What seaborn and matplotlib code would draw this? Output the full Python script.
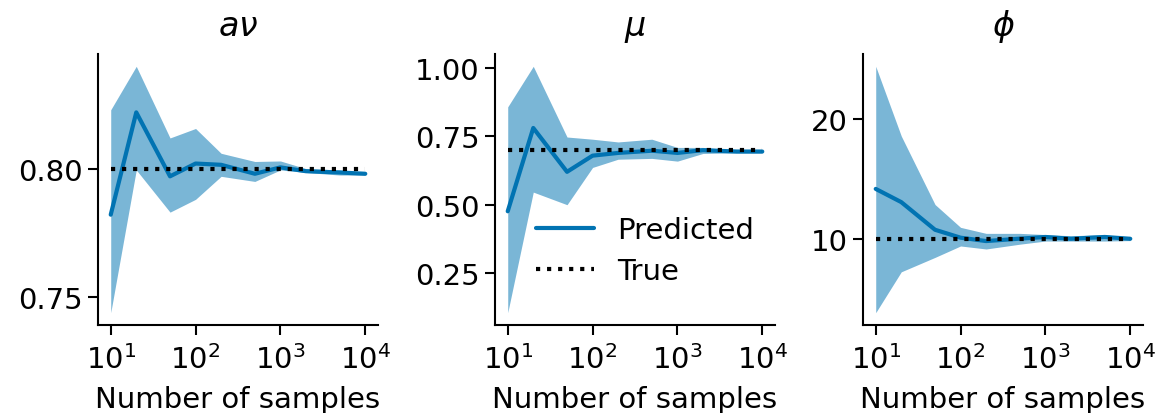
import numpy as np
import pandas as pd
import seaborn as sns
import matplotlib.pyplot as plt
from matplotlib.ticker import NullLocator

sns.set_theme(style="ticks", rc={'text.color': 'black', 'axes.labelcolor': 'black',
                                 'xtick.color': 'black', 'ytick.color': 'black',
                                 'axes.edgecolor': 'black'})
plt.rcParams['font.family'] = ['DejaVu Sans']
plt.rcParams['mathtext.fontset'] = 'dejavusans'

n_samples = [10, 20, 50, 100, 200, 500, 1000, 2000, 5000, 10000]

# a*nu
av_mean = [0.782, 0.822, 0.797, 0.802, 0.8015, 0.798, 0.8005, 0.799, 0.7985, 0.798]
av_upper = [0.823, 0.840, 0.812, 0.8157, 0.806, 0.8028, 0.803, 0.800, 0.7995, 0.7985]
av_lower = [0.7437, 0.7995, 0.783, 0.788, 0.797, 0.795, 0.7995, 0.7985, 0.7975, 0.7975]
av_true = 0.80

# mu
mu_mean = [0.477, 0.781, 0.621, 0.680, 0.690, 0.698, 0.690, 0.700, 0.695, 0.695]
mu_upper = [0.858, 1.006, 0.748, 0.740, 0.730, 0.740, 0.710, 0.710, 0.700, 0.700]
mu_lower = [0.107, 0.547, 0.501, 0.637, 0.667, 0.670, 0.660, 0.688, 0.690, 0.690]
mu_true = 0.70

# phi
phi_mean = [14.2, 13.1, 10.8, 10.14, 9.86, 10.06, 10.2, 10.05, 10.2, 10.05]
phi_upper = [24.4, 18.6, 12.9, 11.0, 10.5, 10.5, 10.4, 10.3, 10.4, 10.1]
phi_lower = [3.9, 7.3, 8.5, 9.45, 9.2, 9.6, 9.86, 9.86, 9.86, 9.9]
phi_true = 10.0

titles = [r'$a\nu$', r'$\mu$', r'$\phi$']
panels = [
    (av_mean, av_lower, av_upper, av_true, [0.75, 0.80], ['0.75', '0.80']),
    (mu_mean, mu_lower, mu_upper, mu_true, [0.25, 0.5, 0.75, 1.0], ['0.25', '0.50', '0.75', '1.00']),
    (phi_mean, phi_lower, phi_upper, phi_true, [10, 20], ['10', '20']),
]

blue = '#0173b2'
fs = 21

fig = plt.figure(figsize=(11.61, 4.14), dpi=100)
lefts = [98, 495, 863]
axes = [fig.add_axes([l / 1161, 1 - 326 / 414, 280 / 1161, (326 - 55) / 414]) for l in lefts]

for i, (ax, (mean, lo, hi, true, yt, ytl)) in enumerate(zip(axes, panels)):
    df = pd.DataFrame({'n': n_samples, 'mean': mean, 'lo': lo, 'hi': hi, 'true': true})
    ax.fill_between(df['n'], df['lo'], df['hi'], color=blue, alpha=0.52, linewidth=0)
    sns.lineplot(data=df, x='n', y='mean', ax=ax, color=blue, linewidth=3, label='Predicted')
    sns.lineplot(data=df, x='n', y='true', ax=ax, color='black', linewidth=3,
                 linestyle=':', label='True')
    ax.set_xscale('log')
    ax.set_xticks([10, 100, 1000, 10000])
    ax.xaxis.set_minor_locator(NullLocator())
    ax.set_yticks(yt)
    ax.set_yticklabels(ytl)
    ax.set_title(titles[i], fontsize=24, pad=14)
    ax.set_xlabel('Number of samples', fontsize=fs, labelpad=8)
    ax.set_ylabel('')
    ax.tick_params(labelsize=fs, width=1.5, length=7.5)
    ax.tick_params(axis='x', pad=6)
    for s in ['left', 'bottom']:
        ax.spines[s].set_linewidth(1.5)
    sns.despine(ax=ax)
    if i == 1:
        ax.legend(frameon=False, fontsize=fs, loc='lower right',
                  bbox_to_anchor=(1.02, 0.05), handlelength=2.0, labelspacing=0.45)
    else:
        ax.get_legend().remove()

fig.savefig('out.png', dpi=100)
